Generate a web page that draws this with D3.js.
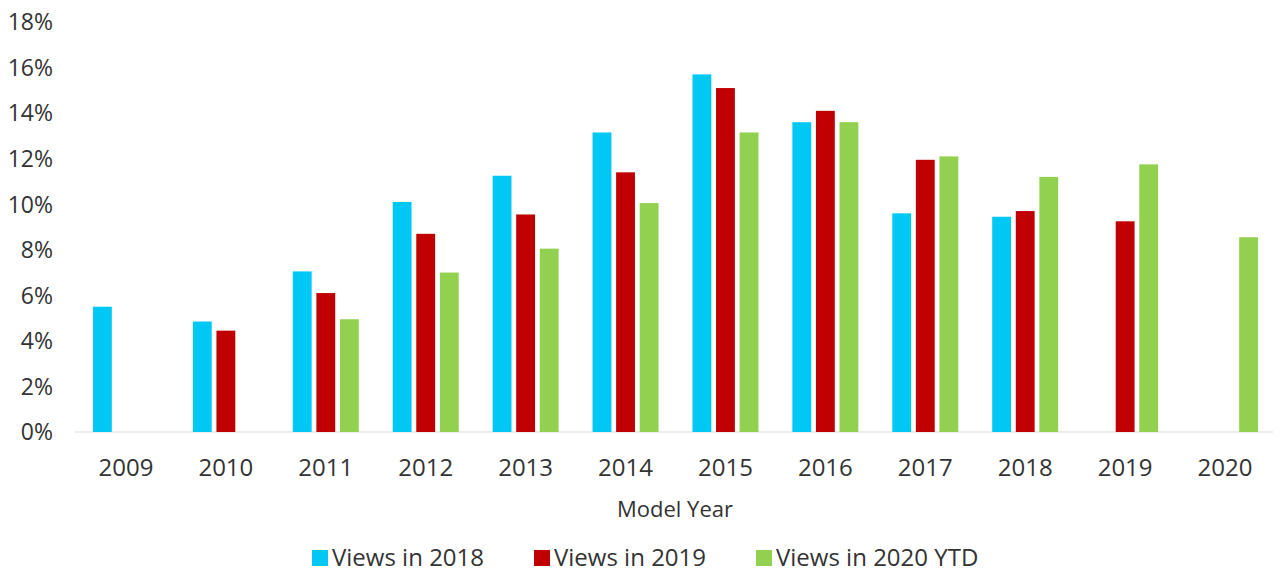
<!DOCTYPE html>
<html>
<head>
<meta charset="utf-8">
<script src="https://cdn.jsdelivr.net/npm/d3@7"></script>
<style>
  body { margin: 0; background: #fff; }
  text { font-family: "Open Sans", Lato, sans-serif; fill: #333; }
</style>
</head>
<body>
<svg id="chart" width="1287" height="574"></svg>
<script>
let years = ["2009", "2010", "2011", "2012", "2013", "2014", "2015", "2016", "2017", "2018", "2019", "2020"]
let seriesNames = ["Views in 2018", "Views in 2019", "Views in 2020 YTD"]
let views2018 = [5.5, 4.85, 7.05, 10.1, 11.25, 13.15, 15.7, 13.6, 9.6, 9.45, null, null]
let views2019 = [null, 4.45, 6.1, 8.7, 9.55, 11.4, 15.1, 14.1, 11.95, 9.7, 9.25, null]
let views2020 = [null, null, 4.95, 7.0, 8.05, 10.05, 13.15, 13.6, 12.1, 11.2, 11.75, 8.55]
let yTicks = [0, 2, 4, 6, 8, 10, 12, 14, 16, 18]
let colors = ["#00c8f5", "#c00000", "#92d050"]

let svg = d3.select("#chart")

let x = d3.scaleBand().domain(years).range([76, 1275])
let y = d3.scaleLinear().domain([0, 18]).range([432, 22])
let inner = d3.scaleBand().domain([0, 1, 2]).range([-33, 33]).paddingInner(0.2)

// y labels
svg.append("g")
    .selectAll("text")
    .data(yTicks)
    .enter()
    .append("text")
    .attr("x", 53)
    .attr("y", (d) => y(d))
    .attr("dy", "0.36em")
    .attr("text-anchor", "end")
    .style("font-size", "23px")
    .text((d) => d + "%")

// axis line
svg.append("line")
    .attr("x1", 75)
    .attr("x2", 1273)
    .attr("y1", y(0))
    .attr("y2", y(0))
    .attr("stroke", "#d9d9d9")
    .attr("stroke-width", 1)

let allSeries = [views2018, views2019, views2020]

allSeries.forEach((values, s) => {
    svg.append("g")
        .selectAll("rect")
        .data(years.map((yr, i) => ({ year: yr, value: values[i] })).filter((d) => d.value != null))
        .enter()
        .append("rect")
        .attr("x", (d) => x(d.year) + x.bandwidth() / 2 + inner(s))
        .attr("width", inner.bandwidth())
        .attr("y", (d) => y(d.value))
        .attr("height", (d) => y(0) - y(d.value))
        .attr("fill", colors[s])
})

// x labels
svg.append("g")
    .selectAll("text")
    .data(years)
    .enter()
    .append("text")
    .attr("x", (d) => x(d) + x.bandwidth() / 2)
    .attr("y", 476)
    .attr("text-anchor", "middle")
    .style("font-size", "24px")
    .text((d) => d)

svg.append("text")
    .attr("x", 675)
    .attr("y", 517)
    .attr("text-anchor", "middle")
    .style("font-size", "22px")
    .text("Model Year")

// legend
let legendX = [312, 534, 756]
let legend = svg.append("g")
    .selectAll("g")
    .data(seriesNames)
    .enter()
    .append("g")
    .attr("transform", (d, i) => "translate(" + legendX[i] + ", 566)")

legend.append("rect")
    .attr("x", 0)
    .attr("y", -16)
    .attr("width", 16)
    .attr("height", 16)
    .attr("fill", (d, i) => colors[i])

legend.append("text")
    .attr("x", 20)
    .style("font-size", "24px")
    .text((d) => d)
</script>
</body>
</html>
